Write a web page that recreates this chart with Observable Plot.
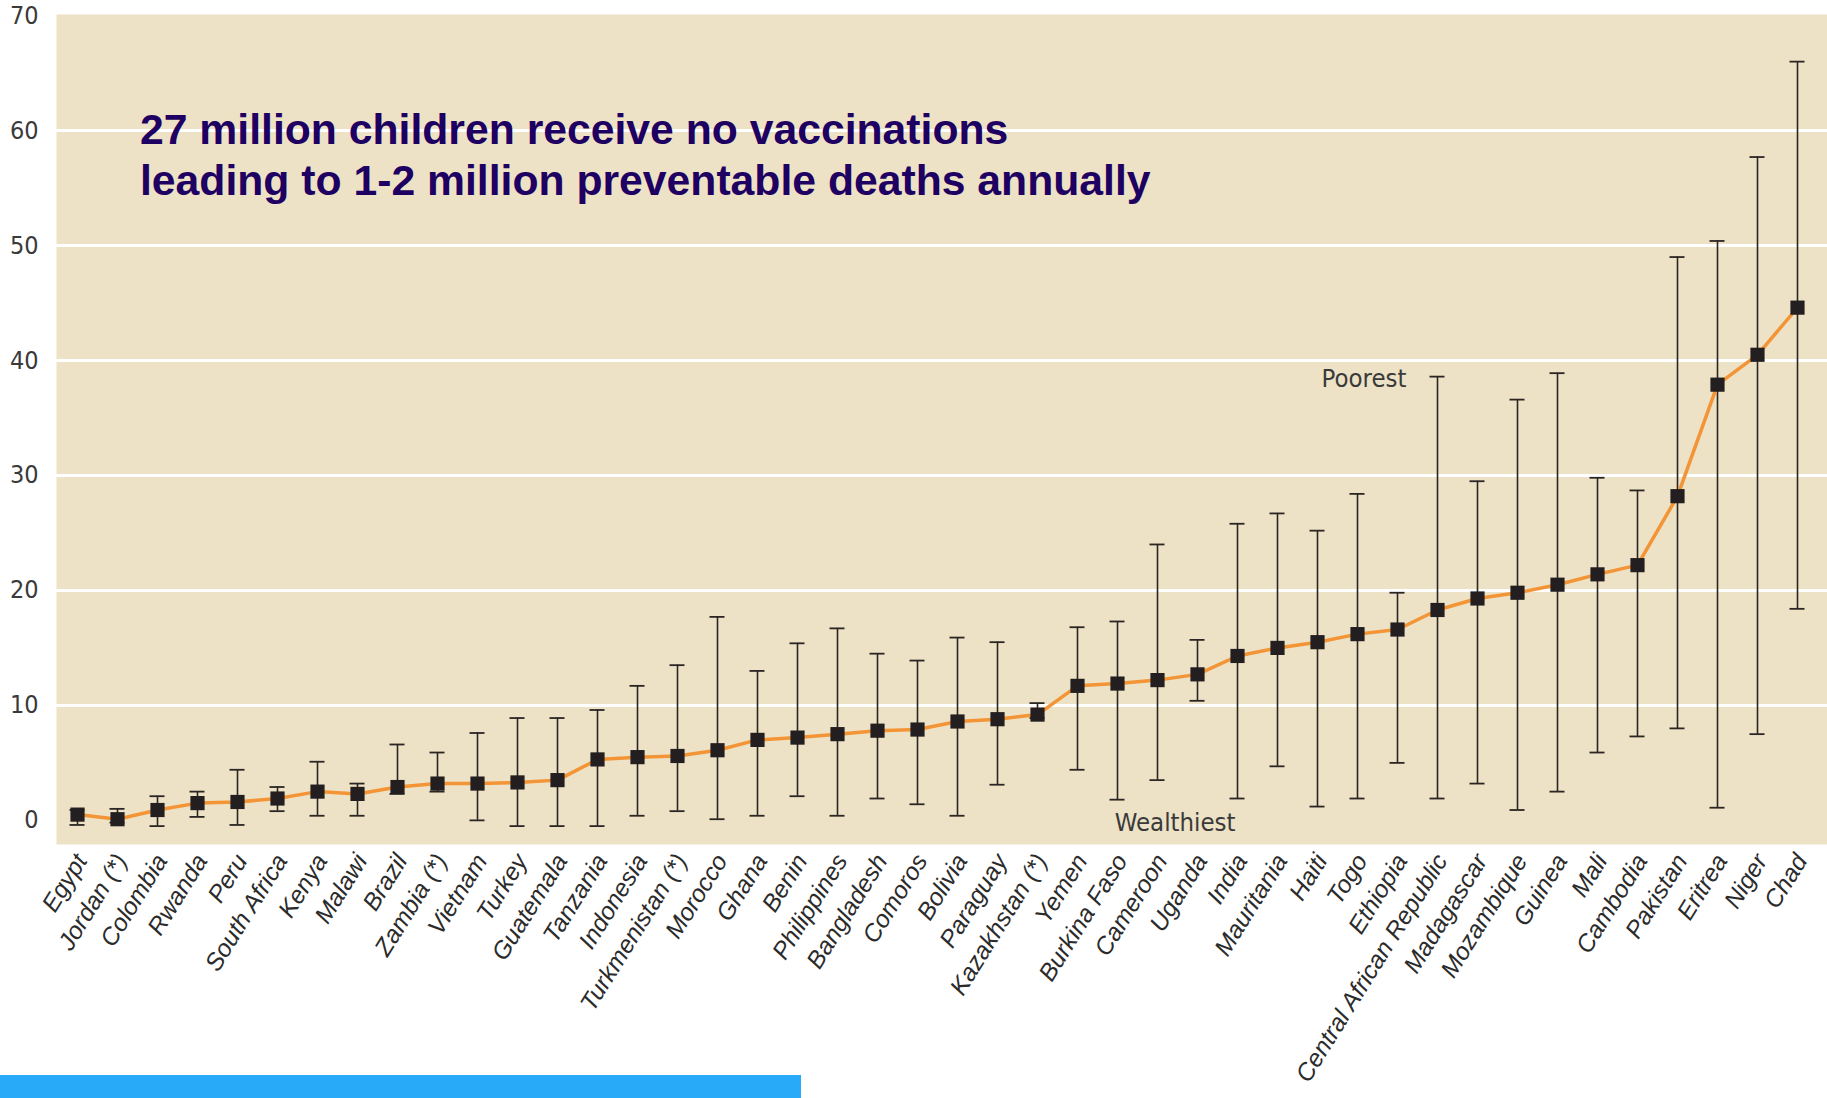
<!DOCTYPE html>
<html>
<head>
<meta charset="utf-8">
<script src="https://cdn.jsdelivr.net/npm/d3@7"></script>
<script src="https://cdn.jsdelivr.net/npm/@observablehq/plot@0.6"></script>
<style>
  html, body { margin: 0; padding: 0; background: #ffffff; }
  #wrap { position: relative; width: 1827px; height: 1098px; overflow: hidden; }
  #title {
    position: absolute; left: 140px; top: 104px;
    font-family: "Liberation Sans", Arial, sans-serif; font-weight: bold;
    font-size: 42.7px; line-height: 51px; color: #1e0062; white-space: nowrap;
  }
  #bluebar { position: absolute; left: 0; top: 1075px; width: 801px; height: 23px; background: #29aaf8; }
</style>
</head>
<body>
<div id="wrap">
  <div id="chart"></div>
  <div id="title">27 million children receive no vaccinations<br>leading to 1-2 million preventable deaths annually</div>
  <div id="bluebar"></div>
</div>
<script>
const countries = ["Egypt","Jordan (*)","Colombia","Rwanda","Peru","South Africa","Kenya","Malawi","Brazil","Zambia (*)","Vietnam","Turkey","Guatemala","Tanzania","Indonesia","Turkmenistan (*)","Morocco","Ghana","Benin","Philippines","Bangladesh","Comoros","Bolivia","Paraguay","Kazakhstan (*)","Yemen","Burkina Faso","Cameroon","Uganda","India","Mauritania","Haiti","Togo","Ethiopia","Central African Republic","Madagascar","Mozambique","Guinea","Mali","Cambodia","Pakistan","Eritrea","Niger","Chad"];
const values = [0.5,0.1,0.9,1.5,1.6,1.9,2.5,2.3,2.9,3.2,3.2,3.3,3.5,5.3,5.5,5.6,6.1,7.0,7.2,7.5,7.8,7.9,8.6,8.8,9.2,11.7,11.9,12.2,12.7,14.3,15.0,15.5,16.2,16.6,18.3,19.3,19.8,20.5,21.4,22.2,28.2,37.9,40.5,44.6];
const lows   = [-0.4,-0.2,-0.5,0.3,-0.4,0.8,0.4,0.4,2.3,2.5,0.0,-0.5,-0.5,-0.5,0.4,0.8,0.1,0.4,2.1,0.4,1.9,1.4,0.4,3.1,8.9,4.4,1.8,3.5,10.4,1.9,4.7,1.2,1.9,5.0,1.9,3.2,0.9,2.5,5.9,7.3,8.0,1.1,7.5,18.4];
const highs  = [0.9,1.0,2.1,2.5,4.4,2.9,5.1,3.2,6.6,5.9,7.6,8.9,8.9,9.6,11.7,13.5,17.7,13.0,15.4,16.7,14.5,13.9,15.9,15.5,10.2,16.8,17.3,24.0,15.7,25.8,26.7,25.2,28.4,19.8,38.6,29.5,36.6,38.9,29.8,28.7,49.0,50.4,57.7,66.0];
const yTicks = [0,10,20,30,40,50,60,70];
const gridTicks = [10,20,30,40,50,60];
const annotationLabels = ["Poorest","Wealthiest"];
const annotationCountries = ["Central African Republic","India"];
const annotationValues = [38.4,-0.2];

const data = countries.map((c, i) => ({country: c, value: values[i], low: lows[i], high: highs[i]}));
const annotations = annotationLabels.map((t, i) => ({label: t, country: annotationCountries[i], value: annotationValues[i]}));

const narrow = "'Liberation Sans Narrow', 'Arial Narrow', 'DejaVu Sans Condensed', sans-serif";
const annoStyle = {x: "country", y: "value", text: "label", textAnchor: "end", fontSize: 25.5, fontFamily: narrow, fill: "#3a3a3a"};

const chart = Plot.plot({
  width: 1827,
  height: 1098,
  marginTop: 14,
  marginBottom: 254,
  marginLeft: 56,
  marginRight: 0,
  style: {background: "transparent", overflow: "visible"},
  x: {type: "band", domain: countries, range: [56, 1818], padding: 0},
  y: {domain: [-2.1, 70.1]},
  marks: [
    Plot.frame({fill: "#ede2c5", stroke: "none"}),
    Plot.gridY(gridTicks, {stroke: "#ffffff", strokeOpacity: 1, strokeWidth: 3}),
    Plot.ruleX(data, {x: "country", y1: "low", y2: "high", stroke: "#2b2624", strokeWidth: 1.6}),
    Plot.tickY(data, {x: "country", y: "low", stroke: "#2b2624", strokeWidth: 1.8, insetLeft: 12.5, insetRight: 12.5}),
    Plot.tickY(data, {x: "country", y: "high", stroke: "#2b2624", strokeWidth: 1.8, insetLeft: 12.5, insetRight: 12.5}),
    Plot.line(data, {x: "country", y: "value", stroke: "#f39436", strokeWidth: 3.5}),
    Plot.dot(data, {x: "country", y: "value", symbol: "square", r: 8, fill: "#231f20", stroke: "none"}),
    Plot.axisY(yTicks, {tickSize: 0, tickPadding: 18, label: null, fontSize: 25, fontFamily: narrow, color: "#3a3a3a"}),
    Plot.axisX({tickSize: 0, tickPadding: 12, tickRotate: -58, dx: 4, label: null, fontSize: 24.5, fontStyle: "italic", fontFamily: "'Liberation Sans', Arial, sans-serif", color: "#2b2b2b"}),
    Plot.text(annotations.slice(0, 1), {...annoStyle, dx: -31}),
    Plot.text(annotations.slice(1), {...annoStyle, dx: -2})
  ]
});
document.getElementById("chart").appendChild(chart);
</script>
</body>
</html>
